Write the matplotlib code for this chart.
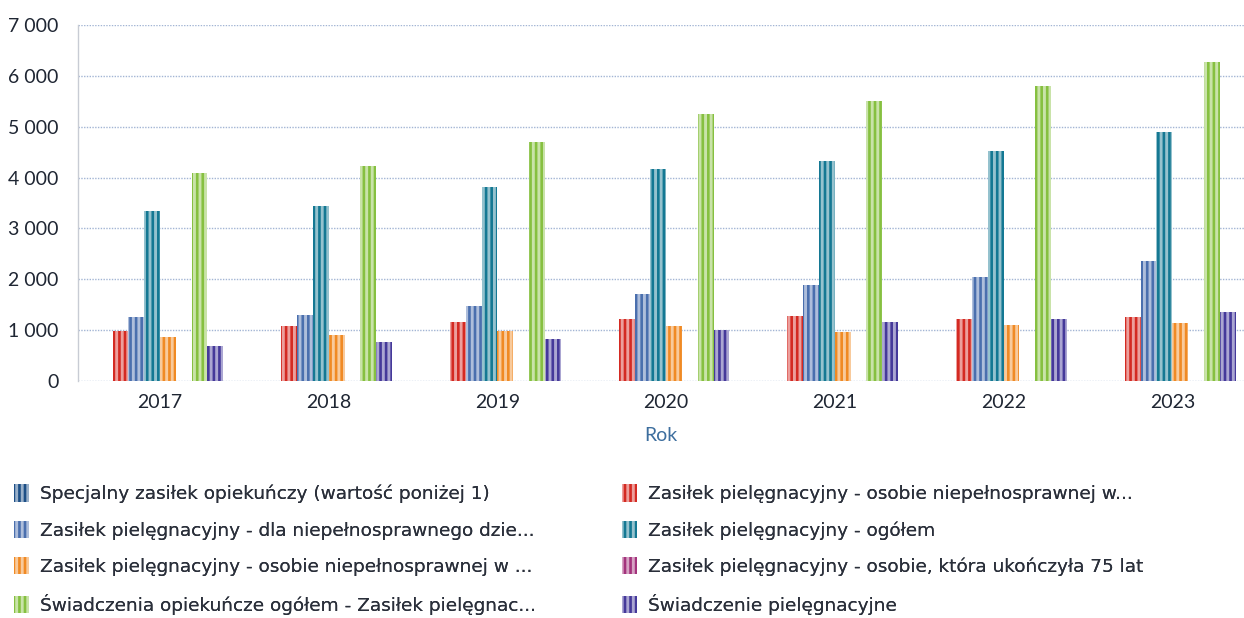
import numpy as np
import matplotlib.pyplot as plt
from matplotlib.colors import to_rgb

plt.rcParams['font.family'] = ['Lato', 'DejaVu Sans']
plt.rcParams['hatch.linewidth'] = 1.9

# Data (liczba świadczeń, lata 2017-2023)
years = ['2017', '2018', '2019', '2020', '2021', '2022', '2023']

specjalny = [0.5, 0.5, 0.5, 0.5, 0.5, 0.5, 0.5]
zp_niepelnospr_w = [985, 1087, 1166, 1213, 1278, 1225, 1265]
zp_dziecko = [1258, 1298, 1475, 1705, 1888, 2051, 2365]
zp_ogolem = [3340, 3447, 3814, 4168, 4332, 4522, 4900]
zp_niepelnospr_w2 = [870, 904, 989, 1081, 957, 1101, 1134]
zp_75_lat = [0, 0, 0, 0, 0, 0, 0]
swiadczenia_ogolem = [4090, 4233, 4705, 5250, 5505, 5800, 6280]
swiadczenie_piel = [695, 761, 826, 1003, 1154, 1213, 1363]

labels = [
    'Specjalny zasiłek opiekuńczy (wartość poniżej 1)',
    'Zasiłek pielęgnacyjny - osobie niepełnosprawnej w...',
    'Zasiłek pielęgnacyjny - dla niepełnosprawnego dzie...',
    'Zasiłek pielęgnacyjny - ogółem',
    'Zasiłek pielęgnacyjny - osobie niepełnosprawnej w ...',
    'Zasiłek pielęgnacyjny - osobie, która ukończyła 75 lat',
    'Świadczenia opiekuńcze ogółem - Zasiłek pielęgnac...',
    'Świadczenie pielęgnacyjne',
]
series = [specjalny, zp_niepelnospr_w, zp_dziecko, zp_ogolem,
          zp_niepelnospr_w2, zp_75_lat, swiadczenia_ogolem, swiadczenie_piel]
colors = ['#1d4f86', '#d42a22', '#4a6fae', '#147893',
          '#f08a24', '#a3337c', '#86c040', '#45399a']


def pale(c, k=0.45):
    r, g, b = to_rgb(c)
    return (1 - k * (1 - r), 1 - k * (1 - g), 1 - k * (1 - b))


fig = plt.figure(figsize=(12.44, 6.18), dpi=100)
ax = fig.add_axes([78 / 1244, 1 - 381 / 618, 1166 / 1244, 356 / 618])

x = np.arange(len(years))
n = len(series)
width = 0.75 / n
handles = []
for i, (vals, col, lab) in enumerate(zip(series, colors, labels)):
    pos = x - 0.375 + width * (i + 0.5)
    b = ax.bar(pos, vals, width, color=pale(col), edgecolor=col,
               linewidth=0, hatch='|||', label=lab, zorder=3)
    handles.append(b)

ax.set_ylim(0, 7000)
ax.set_xlim(-0.486, 6.425)
ax.set_yticks(range(0, 7001, 1000))
ax.set_yticklabels(['0'] + [f'{v // 1000} 000' for v in range(1000, 7001, 1000)])
ax.set_xticks(x)
ax.set_xticklabels(years)
ax.tick_params(axis='both', length=0, labelsize=14, colors='#1f2633')
ax.tick_params(axis='y', pad=14)
ax.tick_params(axis='x', pad=9)

ax.grid(axis='y', color='#a3b5d4', linestyle=(0, (1, 1)), linewidth=1, zorder=0)
for s in ['top', 'right', 'bottom']:
    ax.spines[s].set_visible(False)
ax.spines['left'].set_color('#c8ccd4')
ax.spines['left'].set_linewidth(1)

ax.set_xlabel('Rok', fontsize=14, color='#3d6e9e', labelpad=12)

# legenda w dwóch kolumnach, kolejność wierszami
columns = [([0, 2, 4, 6], 14 / 1244), ([1, 3, 5, 7], 622 / 1244)]
for idx, x0 in columns:
    leg = fig.legend([handles[k] for k in idx], [labels[k] for k in idx],
                     loc='center left', bbox_to_anchor=(x0, 1 - 549.5 / 618),
                     frameon=False, borderpad=0, borderaxespad=0,
                     handlelength=0.8, handleheight=1.05, handletextpad=0.6,
                     labelspacing=0.95,
                     prop={'family': ['DejaVu Sans'], 'size': 13.3})
    for t in leg.get_texts():
        t.set_color('#2a2f3a')
    fig.add_artist(leg)

fig.savefig('out.png', dpi=100)
